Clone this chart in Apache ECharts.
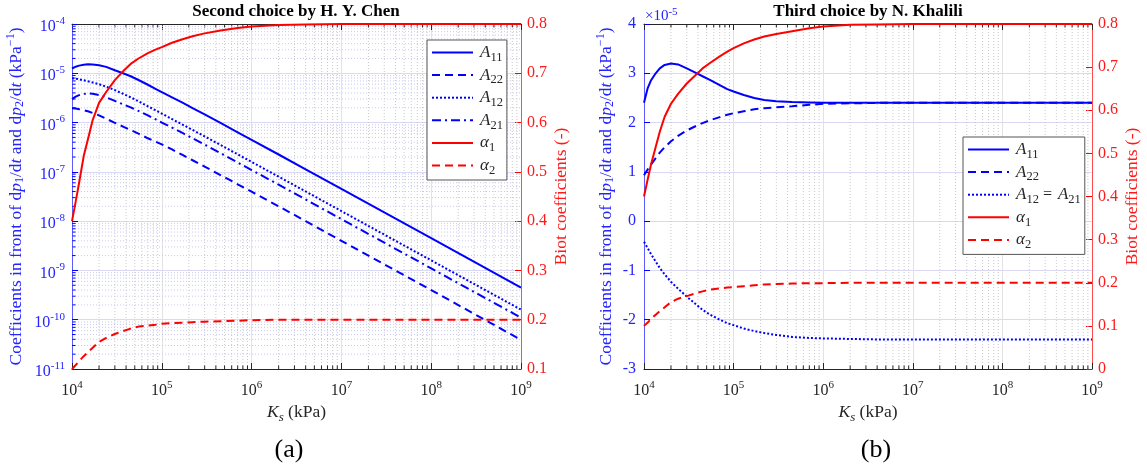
<!DOCTYPE html>
<html><head><meta charset="utf-8">
<script src="https://cdn.jsdelivr.net/npm/echarts@6/dist/echarts.min.js"></script>
<style>html,body{margin:0;padding:0;background:#fff}#c{width:1147px;height:470px}</style>
</head><body><div id="c"></div>
<script>
// ---------- data ----------
const KS = [1e4, 1.1e4, 1.2e4, 1.35e4, 1.5e4, 1.7e4, 2e4, 2.4e4, 3e4, 3.7e4, 4.5e4, 5.5e4, 7e4, 8.5e4, 1e5, 1.3e5, 1.7e5, 2.2e5, 3e5, 4.5e5, 7e5, 1e6, 2e6, 4e6, 1e7, 1e8, 1e9];

// Panel (a): Second choice by H. Y. Chen (kPa^-1)
const A11_a = [1.25e-5, 1.36e-5, 1.43e-5, 1.49e-5, 1.52e-5, 1.51e-5, 1.46e-5, 1.35e-5, 1.15e-5, 1.0e-5, 8.7e-6, 7.3e-6, 5.85e-6, 4.85e-6, 4.14e-6, 3.25e-6, 2.53e-6, 1.97e-6, 1.46e-6, 9.85e-7, 6.36e-7, 4.48e-7, 2.25e-7, 1.125e-7, 4.5e-8, 4.5e-9, 4.5e-10];
const A22_a = [1.95e-6, 1.92e-6, 1.87e-6, 1.78e-6, 1.7e-6, 1.57e-6, 1.4e-6, 1.2e-6, 9.9e-7, 8.3e-7, 7.05e-7, 5.95e-7, 4.8e-7, 4.1e-7, 3.6e-7, 2.85e-7, 2.2e-7, 1.72e-7, 1.28e-7, 8.6e-8, 5.6e-8, 3.95e-8, 2.0e-8, 1.0e-8, 4.0e-9, 4.0e-10, 3.9e-11];
const A12_a = [7.9e-6, 7.75e-6, 7.55e-6, 7.2e-6, 6.9e-6, 6.5e-6, 6.0e-6, 5.35e-6, 4.55e-6, 3.85e-6, 3.25e-6, 2.7e-6, 2.14e-6, 1.78e-6, 1.52e-6, 1.18e-6, 9.1e-7, 7.1e-7, 5.25e-7, 3.52e-7, 2.27e-7, 1.59e-7, 8.0e-8, 4.0e-8, 1.6e-8, 1.6e-9, 1.6e-10];
const A21_a = [3.0e-6, 3.35e-6, 3.6e-6, 3.82e-6, 3.9e-6, 3.85e-6, 3.62e-6, 3.25e-6, 2.75e-6, 2.35e-6, 2.03e-6, 1.72e-6, 1.4e-6, 1.17e-6, 1.0e-6, 7.9e-7, 6.15e-7, 4.8e-7, 3.57e-7, 2.4e-7, 1.55e-7, 1.09e-7, 5.5e-8, 2.75e-8, 1.1e-8, 1.1e-9, 1.1e-10];
const ALPHA1_a = [0.40, 0.44, 0.478, 0.532, 0.565, 0.605, 0.64, 0.662, 0.686, 0.704, 0.719, 0.73, 0.741, 0.748, 0.753, 0.762, 0.769, 0.775, 0.781, 0.787, 0.792, 0.795, 0.798, 0.799, 0.8, 0.8, 0.8];
const ALPHA2_a = [0.10, 0.108, 0.116, 0.126, 0.134, 0.143, 0.155, 0.163, 0.171, 0.177, 0.182, 0.186, 0.188, 0.19, 0.192, 0.193, 0.194, 0.195, 0.196, 0.197, 0.198, 0.199, 0.2, 0.2, 0.2, 0.2, 0.2];

// Panel (b): Third choice by N. Khalili (units of 1e-5 kPa^-1)
const A11_b = [2.4, 2.7, 2.86, 3.0, 3.1, 3.17, 3.2, 3.18, 3.1, 3.02, 2.94, 2.86, 2.76, 2.68, 2.63, 2.56, 2.5, 2.46, 2.435, 2.415, 2.405, 2.4, 2.4, 2.4, 2.4, 2.4, 2.4];
const A22_b = [0.93, 1.05, 1.15, 1.28, 1.39, 1.5, 1.62, 1.73, 1.84, 1.92, 1.99, 2.05, 2.11, 2.16, 2.19, 2.23, 2.27, 2.29, 2.31, 2.33, 2.36, 2.38, 2.39, 2.4, 2.4, 2.4, 2.4];
const A12_b = [-0.42, -0.55, -0.67, -0.82, -0.95, -1.08, -1.23, -1.37, -1.53, -1.67, -1.8, -1.9, -2.0, -2.07, -2.11, -2.18, -2.23, -2.27, -2.31, -2.35, -2.37, -2.38, -2.39, -2.4, -2.4, -2.4, -2.4];
const ALPHA1_b = [0.40, 0.44, 0.475, 0.515, 0.55, 0.585, 0.615, 0.638, 0.662, 0.68, 0.697, 0.71, 0.725, 0.736, 0.744, 0.755, 0.764, 0.771, 0.777, 0.783, 0.79, 0.794, 0.798, 0.799, 0.8, 0.8, 0.8];
const ALPHA2_b = [0.10, 0.108, 0.116, 0.126, 0.134, 0.143, 0.155, 0.163, 0.169, 0.175, 0.18, 0.184, 0.187, 0.189, 0.19, 0.192, 0.194, 0.196, 0.197, 0.198, 0.199, 0.199, 0.2, 0.2, 0.2, 0.2, 0.2];

const TITLES = ['Second choice by H. Y. Chen', 'Third choice by N. Khalili'];
const PANEL_TAGS = ['(a)', '(b)'];
const X_DECADES = [4, 5, 6, 7, 8, 9];
const YA_DECADES = [-11, -10, -9, -8, -7, -6, -5, -4];

// ---------- styles ----------
const FONT = 'Liberation Serif';
const BLUE = '#0000ff', RED = '#ff0000';
const BLUE_T = '#2424ff', RED_T = '#ff1a1a';
const DARK = '#262626';
const NAME_FS = 17.5;

function pairs(arr) { return KS.map((k, i) => [k, arr[i]]); }

// minor log positions (2..9 x 10^k)
function minorLog(decades) {
  const out = [];
  for (let d = 0; d < decades.length - 1; d++)
    for (let m = 2; m <= 9; m++) out.push(m * Math.pow(10, decades[d]));
  return out;
}
const minorX = minorLog(X_DECADES);
const minorYa = minorLog(YA_DECADES);

const logLabelRich = (c) => ({
  b: { fontFamily: FONT, fontSize: 16, color: c, padding: [6, 0, 0, 0] },
  s: { fontFamily: FONT, fontSize: 11, color: c, padding: [0, 0, 6, 0] }
});
const logFmt = (v) => '{b|10}{s|' + Math.round(Math.log10(v)) + '}';

const leftNameRich = {
  n: { fontFamily: FONT, fontSize: NAME_FS, color: BLUE_T },
  i: { fontFamily: FONT, fontSize: NAME_FS, color: BLUE_T, fontStyle: 'italic' },
  sb: { fontFamily: FONT, fontSize: 12, color: BLUE_T, padding: [8, 0, 0, 0] },
  sp: { fontFamily: FONT, fontSize: 12, color: BLUE_T, padding: [0, 0, 10, 0] }
};
const leftName = '{n|Coefficients in front of d}{i|p}{sb|1}{n|/d}{i|t}{n| and d}{i|p}{sb|2}{n|/d}{i|t}{n| (kPa}{sp|−1}{n|)}';

function xAxes(gi) {
  return [
    {
      type: 'log', logBase: 10, gridIndex: gi, min: 1e4, max: 1e9, position: 'bottom',
      axisLine: { onZero: false, lineStyle: { color: DARK, width: 1 } },
      axisTick: { inside: true, length: 6, lineStyle: { color: DARK } },
      axisLabel: { formatter: logFmt, rich: logLabelRich(DARK), margin: 8 },
      splitLine: { show: true, lineStyle: { color: '#e2e2e2', width: 1 } },
      name: '{i|K}{s|s}{n| (kPa)}', nameLocation: 'middle', nameGap: 29,
      nameTextStyle: {
        rich: {
          i: { fontFamily: FONT, fontSize: NAME_FS, fontStyle: 'italic', color: DARK },
          s: { fontFamily: FONT, fontSize: 13, fontStyle: 'italic', color: DARK, padding: [10, 0, 0, 0] },
          n: { fontFamily: FONT, fontSize: NAME_FS, color: DARK }
        }
      }
    },
    {
      type: 'log', logBase: 10, gridIndex: gi, min: 1e4, max: 1e9, position: 'top',
      axisLine: { onZero: false, lineStyle: { color: DARK, width: 1 } },
      axisTick: { inside: true, length: 6, lineStyle: { color: DARK } },
      axisLabel: { show: false }, splitLine: { show: false }
    }
  ];
}

function rightAxis(gi, min) {
  return {
    type: 'value', gridIndex: gi, position: 'right', min: min, max: 0.8, interval: 0.1,
    axisLine: { show: true, onZero: false, lineStyle: { color: '#ff4d4d' } },
    axisTick: { show: true, inside: true, length: 6, lineStyle: { color: RED } },
    axisLabel: { color: RED_T, fontFamily: FONT, fontSize: 16, margin: 6, formatter: v => { const r = Math.round(v * 10) / 10; return r === 0 ? '0' : r.toFixed(1); } },
    splitLine: { show: false },
    name: 'Biot coefficients (-)', nameLocation: 'middle', nameGap: 31, nameRotate: 90,
    nameTextStyle: { color: RED_T, fontFamily: FONT, fontSize: NAME_FS }
  };
}

// custom renderers for minor grid lines + minor ticks (via the axes' own coordinates)
function vMinor(yLo, yHi) {
  return function (params, api) {
    const v = api.value(0);
    const p0 = api.coord([v, yLo]), p1 = api.coord([v, yHi]);
    return {
      type: 'group', children: [
        { type: 'line', shape: { x1: p0[0], y1: p0[1], x2: p1[0], y2: p1[1] }, style: { stroke: '#c9c9c9', lineWidth: 1, lineDash: [1, 2] } },
        { type: 'line', shape: { x1: p0[0], y1: p0[1], x2: p0[0], y2: p0[1] - 3.5 }, style: { stroke: DARK, lineWidth: 1 } },
        { type: 'line', shape: { x1: p1[0], y1: p1[1], x2: p1[0], y2: p1[1] + 3.5 }, style: { stroke: DARK, lineWidth: 1 } }
      ]
    };
  };
}
function hMinor(xLo, xHi) {
  return function (params, api) {
    const v = api.value(1);
    const p0 = api.coord([xLo, v]), p1 = api.coord([xHi, v]);
    return {
      type: 'group', children: [
        { type: 'line', shape: { x1: p0[0], y1: p0[1], x2: p1[0], y2: p1[1] }, style: { stroke: '#cacaf0', lineWidth: 1, lineDash: [1, 2] } },
        { type: 'line', shape: { x1: p0[0], y1: p0[1], x2: p0[0] + 3.5, y2: p0[1] }, style: { stroke: BLUE, lineWidth: 1 } }
      ]
    };
  };
}

const DASH = [8, 5], DOT = [2, 2], DASHDOT = [9, 4, 2, 4];
function line(name, data, xi, yi, color, type) {
  return {
    name: name, type: 'line', xAxisIndex: xi, yAxisIndex: yi, data: data,
    symbol: 'none', smooth: false, z: 5,
    lineStyle: { color: color, width: 2, type: type, join: 'round' }, itemStyle: { color: color },
    emphasis: { disabled: true }
  };
}

const legendRich = {
  i: { fontFamily: FONT, fontSize: 17, fontStyle: 'italic', color: DARK, padding: [0, 0, 0, 2] },
  s: { fontFamily: FONT, fontSize: 12.5, color: DARK, padding: [10, 0, 0, 0] },
  n: { fontFamily: FONT, fontSize: 16, color: DARK }
};
const LEG = {
  'A11': '{i|A}{s|11}', 'A22': '{i|A}{s|22}', 'A12': '{i|A}{s|12}', 'A21': '{i|A}{s|21}',
  'A12 = A21': '{i|A}{s|12}{n| = }{i|A}{s|21}', 'α1': '{i|α}{s|1}', 'α2': '{i|α}{s|2}'
};
function legend(left, top, names) {
  return {
    data: names, left: left, top: top, orient: 'vertical',
    itemWidth: 41, itemHeight: 14, itemGap: 2.6, padding: [4, 4, 3, 4],
    borderColor: '#555', borderWidth: 1, backgroundColor: '#fff', borderRadius: 0,
    selectedMode: false, formatter: n => LEG[n], textStyle: { rich: legendRich },
    itemStyle: { opacity: 0 }
  };
}

const chart = echarts.init(document.getElementById('c'), null, { renderer: 'canvas' });
chart.setOption({
  animation: false,
  backgroundColor: '#fff',
  grid: [
    { left: 72, top: 24, width: 449, height: 345, containLabel: false },
    { left: 644, top: 24, width: 448, height: 345, containLabel: false }
  ],
  xAxis: [...xAxes(0), ...xAxes(1)],
  yAxis: [
    {
      type: 'log', logBase: 10, gridIndex: 0, min: 1e-11, max: 1e-4, position: 'left',
      axisLine: { show: true, onZero: false, lineStyle: { color: '#5c5cff' } },
      axisTick: { show: true, inside: true, length: 6, lineStyle: { color: BLUE } },
      axisLabel: { formatter: logFmt, rich: logLabelRich(BLUE_T), margin: 7 },
      splitLine: { show: true, lineStyle: { color: '#d9d9f7', width: 1 } },
      name: leftName, nameLocation: 'middle', nameGap: 45, nameRotate: 90,
      nameTextStyle: { rich: leftNameRich }
    },
    rightAxis(0, 0.1),
    {
      type: 'value', gridIndex: 1, min: -3, max: 4, interval: 1, position: 'left',
      axisLine: { show: true, onZero: false, lineStyle: { color: '#5c5cff' } },
      axisTick: { show: true, inside: true, length: 6, lineStyle: { color: BLUE } },
      axisLabel: { color: BLUE_T, fontFamily: FONT, fontSize: 16, margin: 8 },
      splitLine: { show: true, lineStyle: { color: '#d9d9f7', width: 1 } },
      name: leftName, nameLocation: 'middle', nameGap: 27, nameRotate: 90,
      nameTextStyle: { rich: leftNameRich }
    },
    rightAxis(1, 0)
  ],
  legend: [
    legend(427, 40, ['A11', 'A22', 'A12', 'A21', 'α1', 'α2']),
    legend(963, 137, ['A11', 'A22', 'A12 = A21', 'α1', 'α2'])
  ],
  graphic: [
    { type: 'text', x: 296, y: 12, silent: true, style: { text: TITLES[0], fontFamily: FONT, fontSize: 17, fontWeight: 'bold', fill: '#000', align: 'center', verticalAlign: 'middle', textAlign: 'center', textVerticalAlign: 'middle' } },
    { type: 'text', x: 868, y: 12, silent: true, style: { text: TITLES[1], fontFamily: FONT, fontSize: 17, fontWeight: 'bold', fill: '#000', align: 'center', verticalAlign: 'middle', textAlign: 'center', textVerticalAlign: 'middle' } },
    { type: 'text', x: 289, y: 450, silent: true, style: { text: PANEL_TAGS[0], fontFamily: FONT, fontSize: 26, fill: '#000', align: 'center', verticalAlign: 'middle', textAlign: 'center', textVerticalAlign: 'middle' } },
    { type: 'text', x: 876, y: 450, silent: true, style: { text: PANEL_TAGS[1], fontFamily: FONT, fontSize: 26, fill: '#000', align: 'center', verticalAlign: 'middle', textAlign: 'center', textVerticalAlign: 'middle' } },
    { type: 'text', x: 645, y: 16, silent: true, style: { text: '{n|×10}{s|-5}', align: 'left', verticalAlign: 'middle', textAlign: 'left', textVerticalAlign: 'middle',
      rich: { n: { fontFamily: FONT, fontSize: 15, fill: BLUE_T, color: BLUE_T }, s: { fontFamily: FONT, fontSize: 11, fill: BLUE_T, color: BLUE_T, padding: [0, 0, 8, 0] } } } }
  ],
  series: [
    { type: 'custom', xAxisIndex: 0, yAxisIndex: 0, silent: true, z: 1, data: minorX.map(v => [v, 1e-11]), renderItem: vMinor(1e-11, 1e-4) },
    { type: 'custom', xAxisIndex: 0, yAxisIndex: 0, silent: true, z: 1, data: minorYa.map(v => [1e4, v]), renderItem: hMinor(1e4, 1e9) },
    { type: 'custom', xAxisIndex: 2, yAxisIndex: 2, silent: true, z: 1, data: minorX.map(v => [v, -3]), renderItem: vMinor(-3, 4) },
    line('A11', pairs(A11_a), 0, 0, BLUE, 'solid'),
    line('A22', pairs(A22_a), 0, 0, BLUE, DASH),
    line('A12', pairs(A12_a), 0, 0, BLUE, DOT),
    line('A21', pairs(A21_a), 0, 0, BLUE, DASHDOT),
    line('α1', pairs(ALPHA1_a), 0, 1, RED, 'solid'),
    line('α2', pairs(ALPHA2_a), 0, 1, RED, DASH),
    line('A11', pairs(A11_b), 2, 2, BLUE, 'solid'),
    line('A22', pairs(A22_b), 2, 2, BLUE, DASH),
    line('A12 = A21', pairs(A12_b), 2, 2, BLUE, DOT),
    line('α1', pairs(ALPHA1_b), 2, 3, RED, 'solid'),
    line('α2', pairs(ALPHA2_b), 2, 3, RED, DASH)
  ]
});
</script>
</body></html>
